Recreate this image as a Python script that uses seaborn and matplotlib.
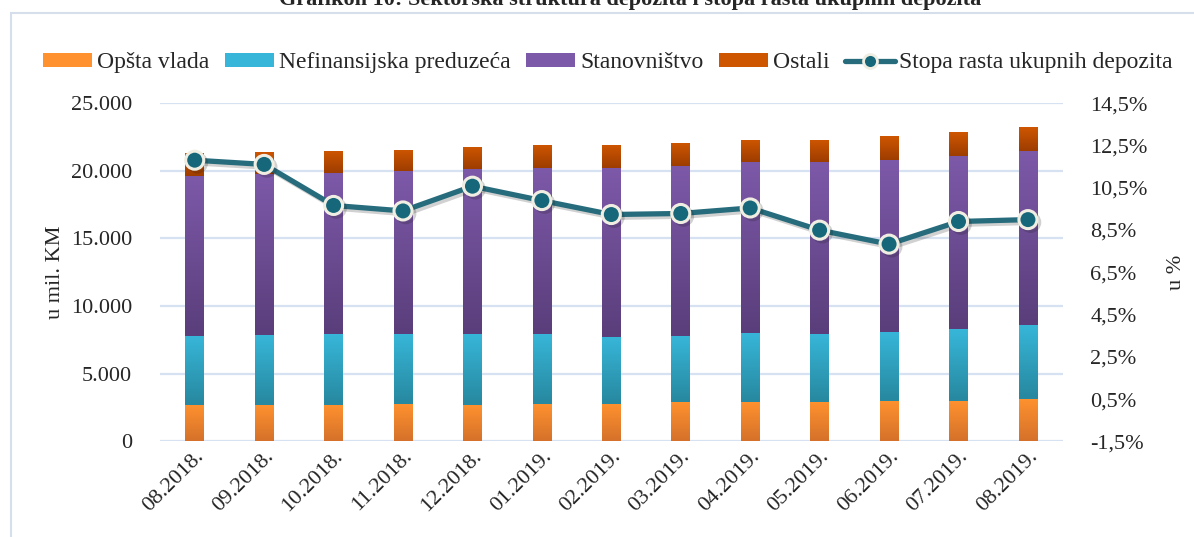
import numpy as np
import pandas as pd
import seaborn as sns
import matplotlib.pyplot as plt
import matplotlib.patheffects as pe
from matplotlib.colors import LinearSegmentedColormap
from matplotlib.patches import Patch, Rectangle
from matplotlib.lines import Line2D
from matplotlib.ticker import FuncFormatter

# Data
mjeseci = ["08.2018.", "09.2018.", "10.2018.", "11.2018.", "12.2018.", "01.2019.",
           "02.2019.", "03.2019.", "04.2019.", "05.2019.", "06.2019.", "07.2019.", "08.2019."]
opsta_vlada = [2700, 2700, 2720, 2770, 2700, 2770, 2770, 2920, 2920, 2920, 3000, 3000, 3140]
nefinansijska = [5100, 5180, 5230, 5180, 5250, 5180, 4960, 4880, 5100, 5030, 5100, 5320, 5470]
stanovnistvo = [11840, 11880, 11910, 12000, 12200, 12280, 12500, 12570, 12650, 12720, 12690, 12800, 12870]
ostali = [1700, 1650, 1630, 1600, 1630, 1700, 1700, 1700, 1630, 1630, 1770, 1770, 1770]
stopa_rasta = [11.80, 11.60, 9.66, 9.40, 10.57, 9.89, 9.23, 9.28, 9.54, 8.49, 7.83, 8.90, 8.99]

naslov = "Grafikon 10: Sektorska struktura depozita i stopa rasta ukupnih depozita"

sns.set_theme(style="white")
plt.rcParams["font.family"] = ["Liberation Serif", "DejaVu Serif"]

df = pd.DataFrame({
    "mjesec": mjeseci,
    "Opšta vlada": opsta_vlada,
    "Nefinansijska preduzeća": nefinansijska,
    "Stanovništvo": stanovnistvo,
    "Ostali": ostali,
})

# (series, top colour, bottom colour)
serije = [
    ("Opšta vlada", "#FF922F", "#D5712A"),
    ("Nefinansijska preduzeća", "#37B6D9", "#27889F"),
    ("Stanovništvo", "#7D59A9", "#5A3E7B"),
    ("Ostali", "#CE5600", "#9E3D00"),
]

fig = plt.figure(figsize=(11.94, 5.37), dpi=100)
ax = fig.add_axes([0.134, 0.178, 0.756, 0.630])


def gradient_fill(patch, c_top, c_bot):
    x, y = patch.get_x(), patch.get_y()
    w, h = patch.get_width(), patch.get_height()
    cmap = LinearSegmentedColormap.from_list("g", [c_bot, c_top])
    grad = np.linspace(0, 1, 64).reshape(-1, 1)
    im = ax.imshow(grad, extent=[x, x + w, y, y + h], origin="lower", cmap=cmap,
                   aspect="auto", zorder=patch.get_zorder() + 0.1)
    im.set_clip_path(patch)


bottom = np.zeros(len(mjeseci))
for name, c_top, c_bot in serije:
    n_before = len(ax.patches)
    sns.barplot(data=df, x="mjesec", y=name, color=c_top, saturation=1,
                width=0.27, bottom=bottom, ax=ax, linewidth=0)
    for p in ax.patches[n_before:]:
        gradient_fill(p, c_top, c_bot)
    bottom = bottom + df[name].to_numpy()

ax.set_xlim(-0.5, len(mjeseci) - 0.5)
ax.set_ylim(0, 25000)
ax.set_yticks(np.arange(0, 25001, 5000))
ax.yaxis.set_major_formatter(FuncFormatter(lambda v, _: f"{int(v):,}".replace(",", ".")))
ax.yaxis.grid(True, color="#D6E2F2", lw=1.6)
ax.set_axisbelow(True)
ax.set_xlabel("")
ax.set_ylabel("u mil. KM", fontsize=16, labelpad=4)
ax.tick_params(axis="y", length=0, pad=20, labelsize=16)
ax.tick_params(axis="x", length=0, pad=4, labelsize=16)
plt.setp(ax.get_xticklabels(), rotation=45, ha="right", rotation_mode="anchor")
for s in ax.spines.values():
    s.set_visible(False)

# Growth rate line on the secondary axis
line_color = "#276C7C"
ax2 = ax.twinx()
sns.lineplot(x=np.arange(len(mjeseci)), y=stopa_rasta, ax=ax2, color=line_color,
             lw=3.8, marker="o", markersize=13, markerfacecolor="#156779",
             markeredgecolor="#F0EEE2", markeredgewidth=2.2,
             path_effects=[pe.SimpleLineShadow(offset=(2, -2), alpha=0.2), pe.Normal()])
ax2.set_ylim(-1.5, 14.5)
ax2.set_yticks(np.arange(-1.5, 14.6, 2))
ax2.yaxis.set_major_formatter(FuncFormatter(lambda v, _: f"{v:.1f}%".replace(".", ",")))
ax2.tick_params(axis="y", length=0, pad=20, labelsize=16)
ax2.grid(False)
ax2.set_ylabel("u %", fontsize=16, rotation=90, labelpad=14)
for s in ax2.spines.values():
    s.set_visible(False)

# Legend
handles = [Patch(facecolor=c_top, edgecolor="none") for _, c_top, _ in serije]
handles.append(Line2D([0], [0], color=line_color, lw=3.8, marker="o", markersize=10,
                      markerfacecolor="#156779", markeredgecolor="#F0EEE2", markeredgewidth=2))
labels = [name for name, _, _ in serije] + ["Stopa rasta ukupnih depozita"]
fig.legend(handles, labels, loc="center", bbox_to_anchor=(0.509, 0.883), ncol=5,
           frameon=False, fontsize=17, handlelength=2.1, handleheight=0.55,
           handletextpad=0.2, columnspacing=0.65)

# Title (cut off at top in the reference) and chart frame
fig.text(0.528, 0.991, naslov, ha="center", va="baseline", fontsize=16, fontweight="bold")
fig.add_artist(Rectangle((11 / 1194, -0.05), 1.1, 1.026, transform=fig.transFigure,
                         fill=False, edgecolor="#D5DFEC", lw=1.5))

fig.savefig("out.png", dpi=100)
